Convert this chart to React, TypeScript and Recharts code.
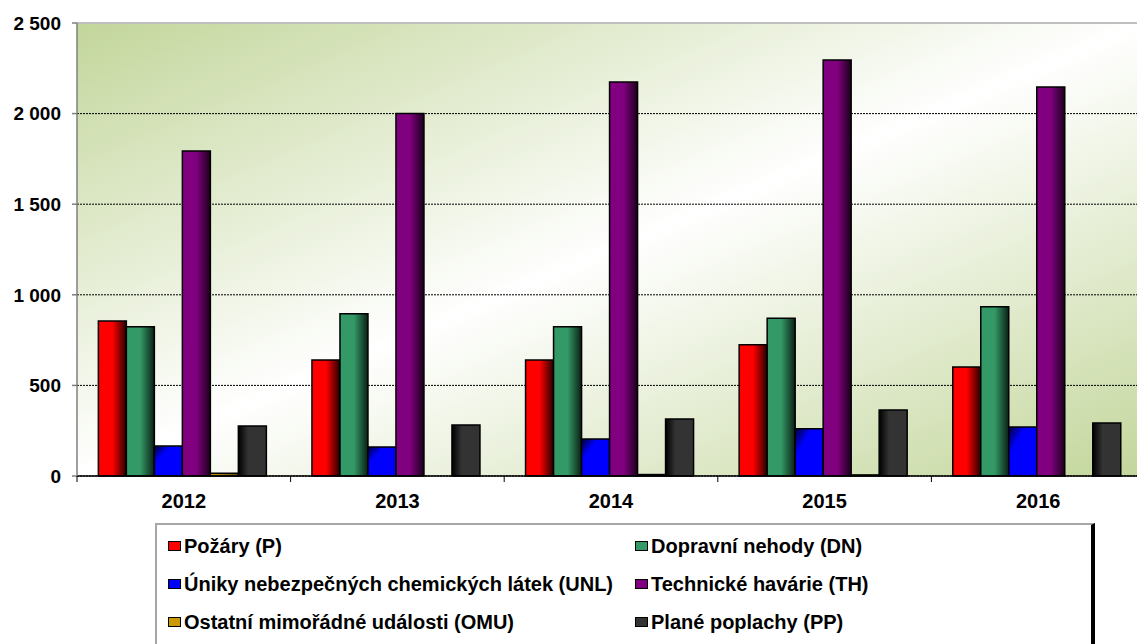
import React from "react";
import {
  Bar,
  BarChart,
  CartesianGrid,
  Legend,
  ReferenceLine,
  XAxis,
  YAxis,
} from "recharts";

const YEARS = ["2012", "2013", "2014", "2015", "2016"];
const POZARY = [855, 640, 640, 725, 602];
const DOPRAVNI = [824, 896, 824, 870, 934];
const UNIKY = [165, 160, 204, 261, 270];
const TECHNICKE = [1793, 2000, 2174, 2296, 2147];
const OSTATNI = [15, 0, 8, 6, 0];
const PLANE = [276, 281, 315, 364, 292];
const Y_TICKS = [0, 500, 1000, 1500, 2000, 2500];

const SERIES = [
  { key: "p", name: "Požáry (P)", color: "#ff0000", values: POZARY },
  { key: "dn", name: "Dopravní nehody (DN)", color: "#339966", values: DOPRAVNI },
  { key: "unl", name: "Úniky nebezpečných chemických látek (UNL)", color: "#0000ff", values: UNIKY },
  { key: "th", name: "Technické havárie (TH)", color: "#800080", values: TECHNICKE },
  { key: "omu", name: "Ostatní mimořádné události (OMU)", color: "#cc9900", values: OSTATNI },
  { key: "pp", name: "Plané poplachy (PP)", color: "#333333", values: PLANE },
];

const data = YEARS.map((year, i) => {
  const row: Record<string, string | number> = { year };
  SERIES.forEach((s) => {
    row[s.key] = s.values[i];
  });
  return row;
});

const CHART_W = 1160;
const CHART_H = 660;
const MARGIN = { top: 23, right: 15, left: 0, bottom: 144 };
const Y_W = 77;
const BAND = (CHART_W - Y_W - MARGIN.left - MARGIN.right) / YEARS.length;
const FONT = "'Liberation Sans', Arial, Helvetica, sans-serif";

function fmt(v: number): string {
  return v >= 1000 ? `${Math.floor(v / 1000)} ${String(v % 1000).padStart(3, "0")}` : String(v);
}

function YearTick(props: any) {
  const { x, y, payload } = props;
  return (
    <g>
      <line x1={x - BAND / 2} x2={x - BAND / 2} y1={y} y2={y + 6} stroke="#000" strokeWidth={1} />
      <text x={x} y={y + 32} textAnchor="middle" fontSize={20} fontWeight="bold" fontFamily={FONT} fill="#000">
        {payload.value}
      </text>
    </g>
  );
}

function LegendBox() {
  return (
    <div
      style={{
        boxSizing: "border-box",
        width: 940,
        height: 140,
        borderTop: "2px solid #a6a6a6",
        borderLeft: "2px solid #a6a6a6",
        borderRight: "4px solid #000",
        background: "#fff",
        paddingTop: 2,
        display: "grid",
        gridTemplateColumns: "467px 1fr",
        gridAutoRows: "38px",
        fontFamily: FONT,
        fontWeight: "bold",
        fontSize: 20,
        color: "#000",
      }}
    >
      {SERIES.map((s) => (
        <div key={s.key} style={{ display: "flex", alignItems: "center", paddingLeft: 11 }}>
          <span
            style={{
              display: "inline-block",
              boxSizing: "border-box",
              width: 13,
              height: 10,
              background: s.color,
              border: "1.5px solid #000",
              marginRight: 3,
            }}
          />
          <span style={{ whiteSpace: "nowrap" }}>{s.name}</span>
        </div>
      ))}
    </div>
  );
}

export default function App() {
  return (
    <div
      style={{
        position: "absolute",
        left: 0,
        top: 0,
        width: 1137,
        height: 644,
        overflow: "hidden",
        background: "#fff",
      }}
    >
      <BarChart
        width={CHART_W}
        height={CHART_H}
        data={data}
        margin={MARGIN}
        barCategoryGap="10%"
        barGap={0}
      >
        <defs>
          <linearGradient id="bg" x1="0" y1="0" x2="1" y2="1">
            <stop offset="0" stopColor="#c3d69b" />
            <stop offset="0.5" stopColor="#ffffff" />
            <stop offset="1" stopColor="#c3d69b" />
          </linearGradient>
          <linearGradient id="g-p" x1="0" y1="0" x2="1" y2="0">
            <stop offset="0" stopColor="#ff0000" />
            <stop offset="0.5" stopColor="#ff0000" />
            <stop offset="1" stopColor="#250000" />
          </linearGradient>
          <linearGradient id="g-dn" x1="0" y1="0" x2="1" y2="0">
            <stop offset="0" stopColor="#339966" />
            <stop offset="0.5" stopColor="#339966" />
            <stop offset="1" stopColor="#0a1f14" />
          </linearGradient>
          <linearGradient id="g-unl" x1="0" y1="0" x2="1" y2="1">
            <stop offset="0" stopColor="#000033" />
            <stop offset="0.3" stopColor="#0000ff" />
            <stop offset="1" stopColor="#0000ff" />
          </linearGradient>
          <linearGradient id="g-th" x1="0" y1="0" x2="1" y2="0">
            <stop offset="0" stopColor="#800080" />
            <stop offset="0.5" stopColor="#800080" />
            <stop offset="1" stopColor="#1a001a" />
          </linearGradient>
          <linearGradient id="g-omu" x1="0" y1="0" x2="1" y2="0">
            <stop offset="0" stopColor="#cc9900" />
            <stop offset="1" stopColor="#664d00" />
          </linearGradient>
          <linearGradient id="g-pp" x1="0" y1="0" x2="1" y2="0">
            <stop offset="0" stopColor="#000000" />
            <stop offset="0.35" stopColor="#333333" />
            <stop offset="1" stopColor="#333333" />
          </linearGradient>
        </defs>
        <CartesianGrid
          vertical={false}
          fill="url(#bg)"
          fillOpacity={1}
          stroke="#000"
          strokeDasharray="2 1"
        />
        <ReferenceLine y={2500} stroke="#bfbfbf" strokeWidth={2} />
        <XAxis
          dataKey="year"
          height={40}
          tickLine={false}
          tickSize={0}
          tickMargin={0}
          axisLine={{ stroke: "#000", strokeWidth: 1.5 }}
          tick={<YearTick />}
          interval={0}
        />
        <YAxis
          width={Y_W}
          domain={[0, 2500]}
          ticks={Y_TICKS}
          tickFormatter={fmt}
          tickSize={5}
          tickMargin={11}
          axisLine={{ stroke: "#7f7f7f", strokeWidth: 1.5 }}
          tickLine={{ stroke: "#7f7f7f", strokeWidth: 1.5 }}
          tick={{ fontSize: 19, fontWeight: "bold", fill: "#000", fontFamily: FONT }}
        />
        {SERIES.map((s) => (
          <Bar
            key={s.key}
            dataKey={s.key}
            name={s.name}
            fill={`url(#g-${s.key})`}
            stroke="#000"
            strokeWidth={1.5}
            isAnimationActive={false}
          />
        ))}
        <Legend
          layout="horizontal"
          verticalAlign="middle"
          align="center"
          wrapperStyle={{ position: "absolute", top: 523, left: 155, width: 940, height: 140 }}
          content={() => <LegendBox />}
        />
      </BarChart>
    </div>
  );
}
